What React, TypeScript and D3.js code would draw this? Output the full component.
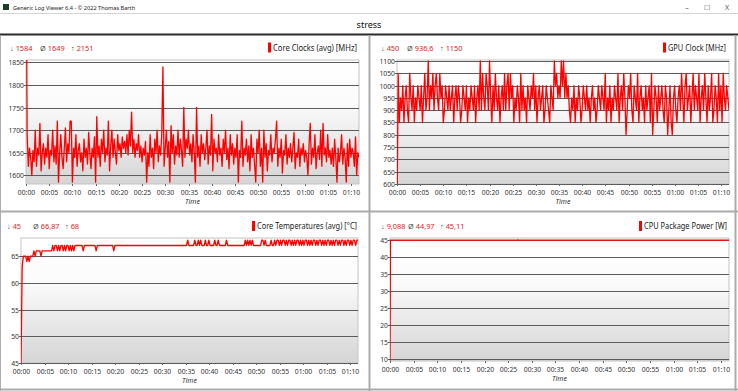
import { useRef, useEffect } from "react";
import * as d3 from "d3";

const DURATION_MIN = 71.7;
const TIME_TICKS = [0, 5, 10, 15, 20, 25, 30, 35, 40, 45, 50, 55, 60, 65, 70];

// one sample every ~15 s
const coreClock = [
  2151, 1690, 1620, 1660, 1640, 1600, 1655, 1630, 1700, 1620, 1660, 1645, 1715, 1610, 1650, 1670, 1625, 1660, 1640, 1690, 1615, 1655, 1645, 1700,
  1630, 1665, 1625, 1720, 1585, 1650, 1690, 1640, 1615, 1660, 1705, 1630, 1670, 1650, 1720, 1720, 1585, 1660, 1640, 1690, 1620, 1655, 1670, 1630,
  1650, 1610, 1680, 1640, 1660, 1625, 1695, 1650, 1615, 1660, 1640, 1685, 1585, 1730, 1640, 1665, 1620, 1680, 1650, 1700, 1630, 1660, 1645, 1720,
  1610, 1665, 1700, 1640, 1680, 1650, 1625, 1690, 1655, 1670, 1640, 1685, 1660, 1675, 1650, 1690, 1645, 1700, 1665, 1740, 1650, 1680, 1640, 1670,
  1655, 1690, 1640, 1665, 1630, 1660, 1645, 1675, 1585, 1650, 1620, 1690, 1640, 1660, 1615, 1680, 1650, 1700, 1630, 1665, 1645, 1690, 1840, 1620,
  1660, 1700, 1640, 1675, 1585, 1710, 1650, 1690, 1625, 1665, 1645, 1700, 1640, 1680, 1655, 1620, 1750, 1640, 1680, 1660, 1700, 1645, 1670, 1630,
  1690, 1650, 1585, 1750, 1640, 1665, 1620, 1690, 1650, 1670, 1635, 1660, 1700, 1625, 1665, 1645, 1735, 1610, 1680, 1650, 1660, 1630, 1690, 1645,
  1660, 1620, 1680, 1650, 1700, 1635, 1660, 1615, 1690, 1645, 1670, 1625, 1660, 1640, 1690, 1585, 1655, 1640, 1720, 1620, 1660, 1645, 1680, 1630,
  1665, 1610, 1690, 1640, 1660, 1625, 1585, 1680, 1650, 1700, 1620, 1660, 1585, 1700, 1640, 1670, 1610, 1655, 1645, 1690, 1630, 1660, 1650, 1680,
  1720, 1620, 1660, 1640, 1680, 1605, 1655, 1645, 1690, 1625, 1660, 1640, 1670, 1630, 1660, 1695, 1615, 1650, 1640, 1680, 1620, 1660, 1645, 1670,
  1630, 1655, 1640, 1600, 1670, 1715, 1625, 1660, 1640, 1690, 1615, 1650, 1665, 1635, 1700, 1620, 1715, 1645, 1660, 1630, 1690, 1640, 1655, 1625,
  1660, 1620, 1680, 1640, 1585, 1660, 1630, 1650, 1690, 1625, 1660, 1640, 1585, 1670, 1620, 1680, 1640, 1660, 1650, 1620, 1685, 1600, 1650, 1640,
];

const gpuClock = [
  450, 1050, 850, 950, 900, 1000, 850, 950, 1000, 900, 850, 1050, 950, 900, 1000, 850, 950, 900, 1000, 950, 900, 1000, 850, 950,
  1050, 900, 950, 1100, 900, 1000, 950, 1050, 900, 1000, 1050, 950, 900, 1050, 950, 1000, 850, 900, 1000, 950, 900, 1000, 900, 950,
  1000, 850, 950, 1000, 900, 1000, 950, 850, 900, 1000, 950, 900, 1000, 850, 950, 900, 1000, 950, 900, 1000, 850, 950, 1000, 900,
  1100, 900, 1050, 950, 900, 1050, 1000, 900, 1100, 950, 850, 1000, 900, 1050, 950, 900, 1000, 850, 950, 1000, 900, 1050, 900, 1000,
  1050, 900, 1050, 950, 1000, 850, 950, 900, 1000, 950, 850, 1050, 900, 1000, 900, 950, 850, 1000, 950, 900, 1000, 950, 1050, 900,
  1000, 850, 950, 1000, 900, 950, 1000, 850, 900, 1000, 950, 900, 850, 1000, 950, 900, 1100, 1000, 1050, 950, 1000, 950, 1100, 1000,
  1100, 950, 1050, 950, 1000, 900, 850, 950, 900, 1000, 850, 950, 900, 1000, 950, 850, 900, 1000, 950, 900, 1000, 900, 950, 850,
  950, 1000, 900, 950, 850, 900, 1000, 950, 900, 1000, 950, 900, 1050, 850, 950, 900, 1000, 850, 950, 900, 1000, 950, 900, 1050,
  850, 950, 1000, 900, 1050, 950, 800, 900, 1000, 950, 1050, 900, 850, 1000, 950, 900, 1050, 850, 950, 1000, 900, 950, 850, 1000,
  900, 950, 1000, 850, 1050, 800, 900, 1000, 950, 850, 1000, 900, 950, 1000, 900, 850, 1000, 950, 800, 900, 1000, 850, 800, 950,
  1000, 900, 850, 950, 1000, 900, 1050, 950, 850, 1000, 1050, 900, 950, 1000, 850, 950, 1050, 900, 1000, 950, 900, 1050, 850, 950,
  1000, 900, 1050, 950, 850, 1000, 900, 950, 1050, 850, 900, 1000, 950, 850, 1050, 900, 1000, 850, 1050, 950, 900, 1000, 950, 900,
];

const coreTemp = [
  45, 63, 65, 65, 65, 64, 65, 64, 65, 65, 65, 66, 65, 66, 66, 66, 66, 65, 66, 66, 66, 66, 66, 66,
  66, 66, 66, 67, 66, 67, 67, 66, 67, 66, 67, 67, 66, 67, 66, 67, 67, 66, 67, 66, 67, 66, 67, 67,
  67, 67, 67, 67, 67, 66, 67, 67, 67, 67, 67, 67, 67, 67, 67, 67, 66, 67, 67, 67, 67, 67, 67, 67,
  67, 67, 67, 67, 67, 67, 67, 66, 67, 67, 67, 67, 67, 67, 67, 67, 67, 67, 67, 67, 67, 67, 67, 67,
  67, 67, 67, 67, 67, 67, 67, 67, 67, 67, 67, 67, 67, 67, 67, 67, 67, 67, 67, 67, 67, 67, 67, 67,
  67, 67, 67, 67, 67, 67, 67, 67, 67, 67, 67, 67, 67, 67, 67, 67, 67, 67, 67, 67, 67, 67, 68, 67,
  67, 67, 67, 67, 68, 67, 67, 68, 67, 68, 67, 67, 67, 68, 67, 67, 68, 67, 67, 67, 67, 68, 67, 67,
  68, 67, 67, 67, 67, 67, 67, 68, 67, 67, 67, 67, 67, 67, 67, 67, 67, 67, 67, 67, 67, 67, 67, 68,
  67, 68, 67, 68, 67, 68, 67, 67, 67, 67, 67, 67, 67, 68, 68, 67, 68, 67, 67, 67, 67, 68, 67, 67,
  68, 67, 68, 68, 67, 68, 67, 68, 68, 67, 68, 67, 68, 68, 67, 68, 67, 68, 67, 68, 68, 67, 68, 67,
  68, 67, 68, 68, 67, 68, 67, 68, 67, 68, 68, 67, 68, 67, 68, 68, 67, 68, 67, 68, 67, 68, 68, 67,
  68, 67, 68, 67, 68, 68, 67, 68, 67, 68, 68, 67, 68, 67, 68, 68, 67, 68, 67, 68, 68, 67, 68, 68,
];

// [minute, watts]
const packagePower: [number, number][] = [
  [0, 9.088], [0.1, 44.97], [3, 44.97], [8, 44.98], [14, 44.97], [20, 44.97], [27, 44.98],
  [27.1, 45.11], [27.2, 44.97], [33, 44.97], [40, 44.96], [47, 44.98], [53, 44.97], [60, 44.97],
  [66, 44.96], [71.7, 44.97],
];

const toPoints = (vals: number[]): [number, number][] =>
  vals.map((v, i) => [(i * DURATION_MIN) / (vals.length - 1), v]);

const panels = [
  { id: "cc", title: "Core Clocks (avg) [MHz]", stats: ["1584", "1649", "2151"], statX: [10, 40, 71],
    data: toPoints(coreClock), yDomain: [1581, 1855], yTicks: [1600, 1650, 1700, 1750, 1800, 1850],
    x0: 26, x1: 359, y0: 60, y1: 184, headY: 50.5, legendX: 268, legendEnd: 357 },
  { id: "gpu", title: "GPU Clock [MHz]", stats: ["450", "936,6", "1150"], statX: [381, 407, 440],
    data: toPoints(gpuClock), yDomain: [600, 1104], yTicks: [600, 650, 700, 750, 800, 850, 900, 950, 1000, 1050, 1100],
    x0: 397, x1: 729, y0: 60, y1: 184, headY: 50.5, legendX: 663, legendEnd: 726 },
  { id: "temp", title: "Core Temperatures (avg) [°C]", stats: ["45", "66,87", "68"], statX: [7, 33, 65],
    data: toPoints(coreTemp), yDomain: [45, 68.4], yTicks: [45, 50, 55, 60, 65],
    x0: 21, x1: 358, y0: 238, y1: 363, headY: 229, legendX: 252, legendEnd: 357 },
  { id: "pwr", title: "CPU Package Power [W]", stats: ["9,088", "44,97", "45,11"], statX: [381, 408, 440],
    data: packagePower, yDomain: [9.5, 45.6], yTicks: [10, 15, 20, 25, 30, 35, 40, 45],
    x0: 390, x1: 729, y0: 238, y1: 361, headY: 229, legendX: 639, legendEnd: 727 },
];

const FONT = "'Noto Sans', 'Open Sans', sans-serif";
const fmtTime = (m: number) => `${String(Math.floor(m / 60)).padStart(2, "0")}:${String(m % 60).padStart(2, "0")}`;

export default function App() {
  const svgRef = useRef<SVGSVGElement>(null);

  useEffect(() => {
    if (!svgRef.current) return;
    const svg = d3.select(svgRef.current);
    svg.selectAll("*").remove();

    const defs = svg.append("defs");
    const grad = defs.append("linearGradient").attr("id", "bg").attr("x1", 0).attr("y1", 0).attr("x2", 0).attr("y2", 1);
    grad.append("stop").attr("offset", "0%").attr("stop-color", "#ffffff");
    grad.append("stop").attr("offset", "35%").attr("stop-color", "#fbfbfb");
    grad.append("stop").attr("offset", "100%").attr("stop-color", "#d5d5d5");

    svg.append("rect").attr("width", 738).attr("height", 391).attr("fill", "#ffffff");

    // window title bar
    svg.append("rect").attr("x", 3).attr("y", 4).attr("width", 6).attr("height", 6).attr("fill", "#1f3a2a");
    svg.append("text").attr("x", 13).attr("y", 9.5).attr("font-family", FONT).attr("font-size", 5.6)
      .attr("fill", "#222").text("Generic Log Viewer 6.4 - © 2022 Thomas Barth");
    [["–", 687], ["☐", 707], ["X", 727]].forEach(([t, x]) => {
      svg.append("text").attr("x", x as number).attr("y", 10).attr("text-anchor", "middle")
        .attr("font-family", FONT).attr("font-size", 7).attr("fill", "#555").text(t as string);
    });
    svg.append("line").attr("x1", 0).attr("x2", 738).attr("y1", 13.5).attr("y2", 13.5).attr("stroke", "#d4d4d4");
    svg.append("text").attr("x", 369).attr("y", 28).attr("text-anchor", "middle").attr("font-family", FONT)
      .attr("font-size", 9).attr("fill", "#111").text("stress");
    svg.append("line").attr("x1", 0).attr("x2", 738).attr("y1", 34.5).attr("y2", 34.5).attr("stroke", "#2b2b2b").attr("stroke-width", 2);

    // panel dividers
    const div = "#ababab";
    svg.append("line").attr("x1", 369.5).attr("x2", 369.5).attr("y1", 35).attr("y2", 391).attr("stroke", div).attr("stroke-width", 2);
    svg.append("line").attr("x1", 0).attr("x2", 738).attr("y1", 211.5).attr("y2", 211.5).attr("stroke", div).attr("stroke-width", 2);
    svg.append("line").attr("x1", 735.5).attr("x2", 735.5).attr("y1", 35).attr("y2", 391).attr("stroke", div).attr("stroke-width", 2);
    svg.append("line").attr("x1", 0.5).attr("x2", 0.5).attr("y1", 35).attr("y2", 391).attr("stroke", div);
    svg.append("line").attr("x1", 0).attr("x2", 738).attr("y1", 389.5).attr("y2", 389.5).attr("stroke", div).attr("stroke-width", 2);

    panels.forEach((p) => {
      const x = d3.scaleLinear().domain([0, DURATION_MIN]).range([p.x0, p.x1]);
      const y = d3.scaleLinear().domain(p.yDomain).range([p.y1, p.y0]);
      const g = svg.append("g");

      defs.append("clipPath").attr("id", `clip-${p.id}`).append("rect")
        .attr("x", p.x0).attr("y", p.y0).attr("width", p.x1 - p.x0).attr("height", p.y1 - p.y0);

      g.append("rect").attr("x", p.x0).attr("y", p.y0).attr("width", p.x1 - p.x0).attr("height", p.y1 - p.y0)
        .attr("fill", "url(#bg)").attr("stroke", "#c4c4c4");

      // gridlines + y labels
      p.yTicks.forEach((t) => {
        const yy = Math.round(y(t)) + 0.5;
        g.append("line").attr("x1", p.x0 - 2).attr("x2", p.x1).attr("y1", yy).attr("y2", yy)
          .attr("stroke", "#5c5c5c").attr("stroke-width", 1.2);
        g.append("text").attr("x", p.x0 - 2).attr("y", yy).attr("dy", "0.33em").attr("text-anchor", "end")
          .attr("font-family", FONT).attr("font-size", 6.8).attr("fill", "#333").text(String(t));
      });

      // time axis
      TIME_TICKS.forEach((t) => {
        const xx = Math.round(x(t)) + 0.5;
        g.append("line").attr("x1", xx).attr("x2", xx).attr("y1", p.y1).attr("y2", p.y1 + 2).attr("stroke", "#666");
        g.append("text").attr("x", xx).attr("y", p.y1 + 10.5).attr("text-anchor", "middle")
          .attr("font-family", FONT).attr("font-size", 6.8).attr("fill", "#333").text(fmtTime(t));
      });
      g.append("text").attr("x", (p.x0 + p.x1) / 2).attr("y", p.y1 + 20).attr("text-anchor", "middle")
        .attr("font-family", FONT).attr("font-size", 7).attr("font-style", "italic").attr("fill", "#333").text("Time");

      // series
      const line = d3.line<[number, number]>().x((d) => x(d[0])).y((d) => y(d[1]));
      g.append("path").attr("clip-path", `url(#clip-${p.id})`).attr("d", line(p.data))
        .attr("fill", "none").attr("stroke", "#ff0000").attr("stroke-width", 1.3).attr("stroke-linejoin", "round");

      // header stats
      const arrows = ["↓", "Ø", "↑"];
      p.stats.forEach((s, i) => {
        const t = g.append("text").attr("x", p.statX[i]).attr("y", p.headY).attr("font-family", FONT).attr("font-size", 7.4);
        t.append("tspan").attr("fill", "#555").text(arrows[i] + " ");
        t.append("tspan").attr("fill", "#e02424").text(s);
      });
      g.append("rect").attr("x", p.legendX).attr("y", p.headY - 8).attr("width", 3).attr("height", 10).attr("fill", "#ff0000");
      g.append("text").attr("x", p.legendX + 5).attr("y", p.headY).attr("textLength", p.legendEnd - p.legendX - 5)
        .attr("lengthAdjust", "spacingAndGlyphs")
        .attr("font-family", FONT).attr("font-size", 8.4).attr("fill", "#222").text(p.title);
    });
  }, []);

  return <svg ref={svgRef} width={738} height={391} style={{ position: "absolute", left: 0, top: 0, display: "block" }} />;
}
